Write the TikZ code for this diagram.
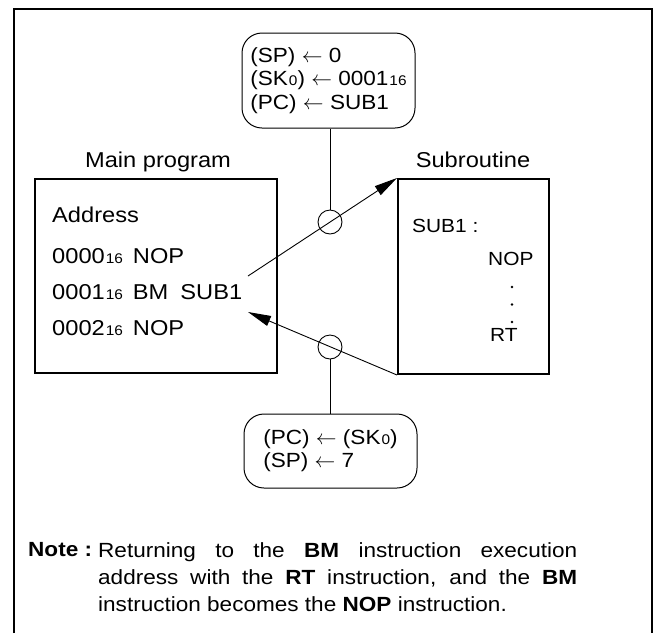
\documentclass[tikz,border=0pt]{standalone}
\usepackage{fontspec}
\setmainfont[FakeStretch=1.1]{Liberation Sans}
\usetikzlibrary{arrows.meta}
\newcommand{\hx}[1]{\kern1pt{\fontsize{14}{14}\selectfont #1}}
\newcommand{\la}{\ensuremath{\leftarrow}}
\newcommand{\jline}[1]{\makebox[479pt][s]{#1}}
\tikzset{
  frame/.style={line width=2.5pt},
  prog/.style={draw, line width=2pt, inner sep=0pt, anchor=north west},
  regbox/.style={draw, line width=1pt, rounded corners=20pt, align=left, inner sep=0pt},
  ring/.style={draw, circle, line width=0.9pt, minimum size=24pt, inner sep=0pt},
  dotmark/.style={circle, fill, inner sep=0pt, minimum size=2.8pt},
  conn/.style={line width=0.9pt},
  arr/.style={line width=0.9pt, -{Triangle[length=23pt, width=10.5pt]}},
  lbl/.style={font=\fontsize{21.5}{26}\selectfont, inner sep=0pt, anchor=base},
  txt/.style={font=\fontsize{21.5}{26}\selectfont, inner sep=0pt, anchor=base west},
  stxt/.style={font=\fontsize{19}{16.5}\selectfont, inner sep=0pt, anchor=base west},
  notetxt/.style={font=\fontsize{20.5}{27}\selectfont, inner sep=0pt, anchor=north west},
}
\begin{document}
\begin{tikzpicture}[x=1pt,y=-1pt]
\useasboundingbox (0,0) rectangle (658,633);
\draw[frame] (14,633) -- (14,9) -- (652,9) -- (652,633);

% program boxes
\node[prog, minimum width=242pt, minimum height=194pt] (main) at (34,178) {};
\node[prog, minimum width=151pt, minimum height=195pt] (sub) at (397,178) {};
\node[lbl] (mainlbl) at (158,167) {Main program};
\node[lbl] (sublbl) at (473,167) {Subroutine};

% main program text
\node[txt] (addr) at (52,222) {Address};
\node[txt] (l0) at (52,263) {0000\hx{16}\hspace{10pt}NOP};
\node[txt] (l1) at (52,299) {0001\hx{16}\hspace{10pt}BM\hspace{12pt}SUB1};
\node[txt] (l2) at (52,335) {0002\hx{16}\hspace{10pt}NOP};

% subroutine text
\node[stxt] (s0) at (412,232) {SUB1 :};
\node[stxt] (s1) at (488,265) {NOP};
\node[dotmark] (d1) at (512,287) {};
\node[dotmark] (d2) at (512,304.5) {};
\node[dotmark] (d3) at (512,322) {};
\node[stxt] (s2) at (490,341) {RT};

% register boxes
\node[regbox, minimum width=173pt, minimum height=95pt,
      font=\fontsize{20.5}{23.5}\selectfont] (top) at (328.5,80.5)
  {(SP) \la{} 0\\(SK\hx{0}) \la{} 0001\hx{16}\\(PC) \la{} SUB1};
\node[regbox, minimum width=173pt, minimum height=74pt,
      font=\fontsize{20.5}{23}\selectfont] (bot) at (330.5,451)
  {(PC) \la{} (SK\hx{0})\\(SP) \la{} 7};

% circles and stems
\node[ring] (c1) at (330,222) {};
\node[ring] (c2) at (330,347) {};
\draw[conn] (c1.north |- top.south) -- (c1.north);
\draw[conn] (c2.south) -- (c2.south |- bot.north);

% arrows
\coordinate (a1) at (248,276);
\coordinate (a2) at (248,312);
\draw[arr] (a1) -- (sub.north west);
\draw[arr] (sub.south west) -- (a2);

% note
\node[notetxt] (notehead) at (28,542) {\textbf{Note :}};
\node[notetxt, align=left] (note) at (98,542)
  {\jline{Returning to the \textbf{BM} instruction execution}\\
   \jline{address with the \textbf{RT} instruction, and the \textbf{BM}}\\
   instruction becomes the \textbf{NOP} instruction.};
\end{tikzpicture}
\end{document}
